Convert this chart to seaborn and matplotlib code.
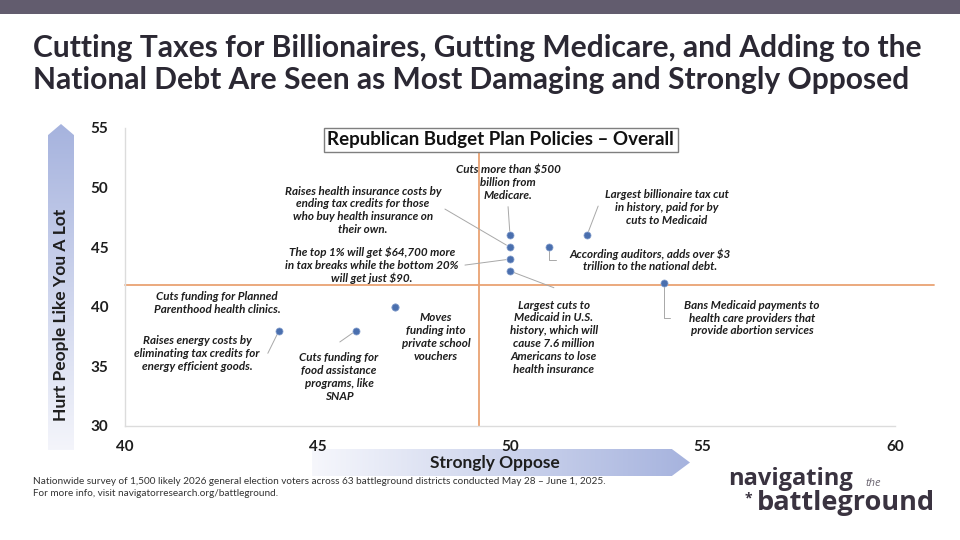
import numpy as np
import pandas as pd
import seaborn as sns
import matplotlib.pyplot as plt
from matplotlib.colors import LinearSegmentedColormap
from matplotlib.patches import Polygon, Rectangle

sns.set_style("white")
plt.rcParams['font.family'] = ['Lato', 'DejaVu Sans']

# data
policies = [
    "Raises energy costs by\neliminating tax credits for\nenergy efficient goods.",
    "Cuts funding for\nfood assistance\nprograms, like\nSNAP",
    "Cuts funding for Planned\nParenthood health clinics.",
    "Moves\nfunding into\nprivate school\nvouchers",
    "Cuts more than $500\nbillion from\nMedicare.",
    "Raises health insurance costs by\nending tax credits for those\nwho buy health insurance on\ntheir own.",
    "The top 1% will get $64,700 more\nin tax breaks while the bottom 20%\nwill get just $90.",
    "Largest cuts to\nMedicaid in U.S.\nhistory, which will\ncause 7.6 million\nAmericans to lose\nhealth insurance",
    "According auditors, adds over $3\ntrillion to the national debt.",
    "Largest billionaire tax cut\nin history, paid for by\ncuts to Medicaid",
    "Bans Medicaid payments to\nhealth care providers that\nprovide abortion services",
]
strongly_oppose = [44, 46, 47, 47, 50, 50, 50, 50, 51, 52, 54]
hurt_a_lot = [38, 38, 40, 40, 46, 45, 44, 43, 45, 46, 42]
ref_x = 49.2
ref_y = 41.8

# label layout (text centre, leader start)
label_pos = [(41.87, 36.1), (45.56, 34.1), (42.39, 40.3), (48.08, 37.45), (49.95, 50.45),
             (46.18, 48.1), (46.42, 43.5), (51.14, 37.45), (53.64, 43.9), (54.08, 48.35),
             (56.29, 39.05)]
leader_from = [(43.71, 36.1), (45.58, 37.05), None, None, (49.95, 48.4),
               (48.31, 48.2), (48.83, 43.5), (51.14, 41.6), (51.19, 43.9), (52.29, 48.45),
               (54.16, 39.05)]
leader_style = ["arc3", "arc3", None, None, "arc3", "arc3", "arc3", "arc3",
                "angle,angleA=0,angleB=90,rad=0", "arc3", "angle,angleA=0,angleB=90,rad=0"]

df = pd.DataFrame({"policy": policies, "oppose": strongly_oppose, "hurt": hurt_a_lot})

fig = plt.figure(figsize=(9.6, 5.4), dpi=100)
fig.patch.set_facecolor("white")

# top band
fig.add_artist(Rectangle((0, 1 - 14 / 540), 1, 14 / 540, transform=fig.transFigure,
                         color="#625c6e", lw=0))

fig.text(33 / 960, 1 - 48 / 540, "Cutting Taxes for Billionaires, Gutting Medicare, and Adding to the",
         fontsize=21.6, fontweight="bold", color="#2b2833", va="center")
fig.text(33 / 960, 1 - 80 / 540, "National Debt Are Seen as Most Damaging and Strongly Opposed",
         fontsize=21.6, fontweight="bold", color="#2b2833", va="center")


def gradient_arrow(rect, poly, c0, c1, vertical):
    a = fig.add_axes(rect)
    a.set_axis_off()
    cmap = LinearSegmentedColormap.from_list("g", [c0, c1])
    grad = np.linspace(0, 1, 256)
    grad = grad.reshape(-1, 1) if vertical else grad.reshape(1, -1)
    im = a.imshow(grad, cmap=cmap, extent=[0, 1, 0, 1], origin="lower", aspect="auto")
    p = Polygon(poly, closed=True, transform=a.transAxes, facecolor="none", edgecolor="none")
    a.add_patch(p)
    im.set_clip_path(p)
    a.set_xlim(0, 1)
    a.set_ylim(0, 1)
    return a


gradient_arrow([48 / 960, 1 - 450 / 540, 26 / 960, 326 / 540],
               [(0, 0), (1, 0), (1, 0.966), (0.5, 1), (0, 0.966)],
               "#f4f5fb", "#a6b3de", True)
gradient_arrow([312 / 960, 1 - 476 / 540, 378 / 960, 27 / 540],
               [(0, 0), (0.952, 0), (1, 0.5), (0.952, 1), (0, 1)],
               "#f6f7fc", "#a6b3de", False)

ax = fig.add_axes([125 / 960, 1 - 426 / 540, 770 / 960, 298 / 540])
ax.set_facecolor("none")

ax.plot([ref_x, ref_x], [30, 53], color="#e9a273", lw=1.3, zorder=1)
ax.plot([40, 61], [ref_y, ref_y], color="#e9a273", lw=1.3, zorder=1, clip_on=False)

sns.scatterplot(data=df, x="oppose", y="hurt", ax=ax, color="#4a6fae", s=26,
                edgecolor="#8aa3cf", linewidth=0.5, zorder=4, legend=False)

for i, txt in enumerate(policies):
    tx, ty = label_pos[i]
    ax.text(tx, ty, txt, ha="center", va="center", fontsize=8.4, fontweight="bold",
            fontstyle="italic", color="#1e1e1e", linespacing=1.2, zorder=5)
    if leader_from[i] is not None:
        ax.annotate("", xy=(strongly_oppose[i], hurt_a_lot[i]), xytext=leader_from[i],
                    arrowprops=dict(arrowstyle="-", color="#a8a8a8", lw=0.7,
                                    shrinkA=0, shrinkB=3,
                                    connectionstyle=leader_style[i]), zorder=3)

ax.set_xlim(40, 60)
ax.set_ylim(30, 55)
ax.set_xticks([40, 45, 50, 55, 60])
ax.set_yticks([30, 35, 40, 45, 50, 55])
ax.set_xlabel("")
ax.set_ylabel("")
ax.tick_params(axis="both", length=0, labelsize=11, labelcolor="#1e1e1e")
ax.tick_params(axis="x", pad=10)
ax.tick_params(axis="y", pad=12)
for lab in ax.get_xticklabels() + ax.get_yticklabels():
    lab.set_fontweight("bold")
for s in ["top", "right"]:
    ax.spines[s].set_visible(False)
for s in ["left", "bottom"]:
    ax.spines[s].set_color("#dcdcdc")
    ax.spines[s].set_linewidth(1.0)

ax.text(0.488, 0.96, "Republican Budget Plan Policies \u2013 Overall", transform=ax.transAxes,
        ha="center", va="center", fontsize=13.5, fontweight="bold", color="#111111", zorder=6,
        bbox=dict(boxstyle="square,pad=0.2", facecolor="white", edgecolor="#7f7f7f", lw=1))

fig.text(61 / 960, 1 - 315 / 540, "Hurt People Like You A Lot", rotation=90, ha="center",
         va="center", fontsize=12.5, fontweight="bold", color="#1e1e1e")
fig.text(495 / 960, 1 - 463 / 540, "Strongly Oppose", ha="center", va="center",
         fontsize=12.5, fontweight="bold", color="#1e1e1e")

fig.text(33 / 960, 1 - 481 / 540,
         "Nationwide survey of 1,500 likely 2026 general election voters across 63 battleground districts conducted May 28 \u2013 June 1, 2025.",
         fontsize=7.2, color="#333333", va="center")
fig.text(33 / 960, 1 - 493 / 540, "For more info, visit navigatorresearch.org/battleground.",
         fontsize=7.2, color="#333333", va="center")

logo_font = ['Open Sans', 'DejaVu Sans']
fig.text(728 / 960, 1 - 485 / 540, "navigating", fontsize=17, fontweight="bold",
         color="#3a3340", family=logo_font, va="baseline")
fig.text(866 / 960, 1 - 486 / 540, "the", fontsize=8, fontstyle="italic",
         color="#6a6470", family=logo_font, va="baseline")
fig.text(745 / 960, 1 - 502 / 540, "*", fontsize=10, fontweight="bold",
         color="#3a3340", family=logo_font, va="baseline")
fig.text(757 / 960, 1 - 510 / 540, "battleground", fontsize=19.5, fontweight="bold",
         color="#3a3340", family=logo_font, va="baseline")

fig.savefig("out.png", dpi=100)
